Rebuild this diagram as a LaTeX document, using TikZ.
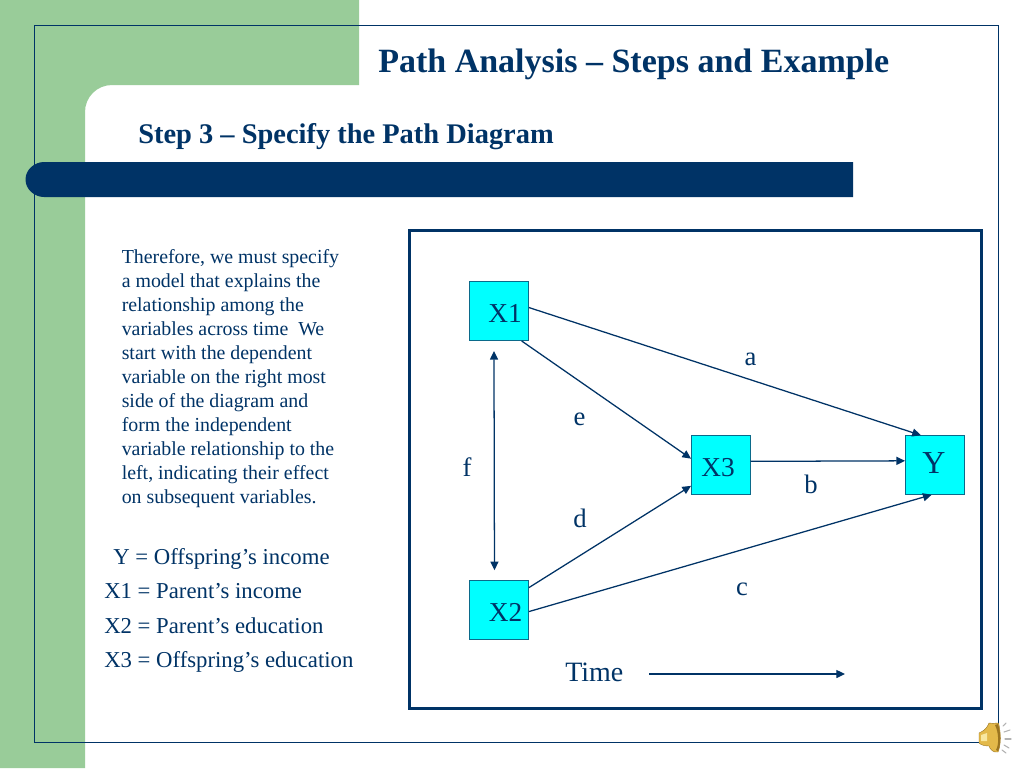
\documentclass[tikz,border=0pt]{standalone}
\usepackage{fontspec}
\setmainfont{Liberation Serif}
\usetikzlibrary{arrows.meta}
\definecolor{navy}{HTML}{003366}
\definecolor{sage}{HTML}{99CC99}
\definecolor{boxcyan}{HTML}{00FFFF}
\definecolor{boxedge}{HTML}{0B6A8A}
\definecolor{gold}{HTML}{E3B94A}
\definecolor{golddark}{HTML}{9A7420}
\definecolor{goldlight}{HTML}{F8E7A0}
\tikzset{
  varbox/.style={draw=boxedge,line width=0.7pt,fill=boxcyan,minimum width=59.5*0.75pt,minimum height=59.5*0.75pt,inner sep=0pt,outer sep=0pt},
  varlabel/.style={text=navy,font=\fontsize{20.5}{24}\selectfont,inner sep=0pt,anchor=base},
  link/.style={draw=navy,line width=0.95pt,-{Triangle[length=6.5pt,width=6pt]}},
  biglink/.style={draw=navy,line width=0.95pt,{Triangle[length=6.5pt,width=6pt]}-{Triangle[length=6.5pt,width=6pt]},shorten <=7.5pt,shorten >=7.5pt},
  pathletter/.style={text=navy,font=\fontsize{20}{24}\selectfont,inner sep=0pt,anchor=base},
  rays/.style={draw=gray!60,line width=0.8pt,line cap=round}
}
\begin{document}
\begin{tikzpicture}[x=0.75pt,y=-0.75pt]
\useasboundingbox (0,0) rectangle (1024,768);
\fill[white] (0,0) rectangle (1024,768);
% green backdrop
\fill[sage] (0,0) -- (359,0) -- (359,85) -- (112,85) .. controls (97,85) and (85,97) .. (85,112) -- (85,768) -- (0,768) -- cycle;
% thin frame
\draw[navy,line width=0.75pt] (34,25) rectangle (998,742);
% band
\fill[navy] (853,162) -- (853,197) -- (44,197) .. controls (34.3,197) and (25.5,189.2) .. (25.5,179.5) .. controls (25.5,169.8) and (34.3,162) .. (44,162) -- cycle;
% titles
\node[anchor=base west,inner sep=0pt,text=navy,font=\fontsize{25.5}{30}\bfseries\selectfont] (title) at (378,72) {Path Analysis – Steps and Example};
\node[anchor=base west,inner sep=0pt,text=navy,font=\fontsize{21.33}{25}\bfseries\selectfont] (subtitle) at (138,143.5) {Step 3 – Specify the Path Diagram};
% body
\node[anchor=north west,inner sep=0pt,align=left,text=navy,font=\fontsize{14.9}{18}\selectfont] (body) at (121.5,249.5) {Therefore, we must specify\\a model that explains the\\relationship among the\\variables across time\ \ We\\start with the dependent\\variable on the right most\\side of the diagram and\\form the independent\\variable relationship to the\\left, indicating their effect\\on subsequent variables.};
\node[anchor=north west,inner sep=0pt,align=left,text=navy,font=\fontsize{17.05}{25.85}\selectfont] (legend) at (104,548) {\hspace*{6.75pt}Y = Offspring’s income\\X1 = Parent’s income\\X2 = Parent’s education\\X3 = Offspring’s education};
% diagram frame
\draw[navy,line width=2.25pt] (409,230.5) rectangle (981,708);
% variables
\node[varbox] (x1) at (499.2,311.2) {};
\node[varbox] (x2) at (499.2,610) {};
\node[varbox] (x3) at (720.8,465) {};
\node[varbox] (y) at (934.8,465) {};
\node[varlabel] (x1t) at (505,322.5) {X1};
\node[varlabel] (x2t) at (505.5,621.5) {X2};
\node[varlabel] (x3t) at (718,476.5) {X3};
\node[varlabel,font=\fontsize{24}{28}\selectfont] (yt) at (934,473.5) {Y};
% connectors
\draw[link] (x1.7.6) -- (y.115);
\draw[link] (x1.-53.7) -- (x3.168.7);
\draw[link] (x2.37.5) -- (x3.215);
\draw[link] (x2.-3.8) -- (y.264);
\draw[link] (x3.7.6) -- (y.172.4);
\draw[biglink] (x1.260) -- (x2.99.5);
% labels
\node[pathletter] (la) at (750.5,365.5) {a};
\node[pathletter] (lb) at (811,493.5) {b};
\node[pathletter] (lc) at (742,595.5) {c};
\node[pathletter] (ld) at (580,527.5) {d};
\node[pathletter] (le) at (579.5,425.5) {e};
\node[pathletter] (lf) at (467,476.5) {f};
% time
\node[anchor=base west,inner sep=0pt,text=navy,font=\fontsize{21}{25}\selectfont] (time) at (565,681.5) {Time};
\coordinate (t1) at (649,674);
\coordinate (t2) at (845,674);
\draw[link] (t1) -- (t2);
% speaker
\fill[gold,draw=golddark,line width=0.3pt] (979,733) .. controls (983,731) and (986,730) .. (989,723) .. controls (992,724) and (994,723) .. (998.5,723) .. controls (1001,733) and (1001,745) .. (998,752) .. controls (993,753) and (990,749) .. (989,746) .. controls (985,746) and (981,745) .. (979,743) -- cycle;
\fill[goldlight] (981,735) -- (987,733) -- (987,741) -- (981,741) -- cycle;
\fill[golddark] (995,725) .. controls (999,733) and (999,745) .. (996,750) -- (998,751) .. controls (1001,745) and (1001,733) .. (998,724) -- cycle;
\draw[rays] (1003,726) -- (1006,723);
\draw[rays] (1004,732) -- (1010,730);
\draw[rays] (1005,739) -- (1011,739);
\draw[rays] (1004,745) -- (1009,748);
\draw[rays] (1002,750) -- (1006,753);
\end{tikzpicture}
\end{document}
